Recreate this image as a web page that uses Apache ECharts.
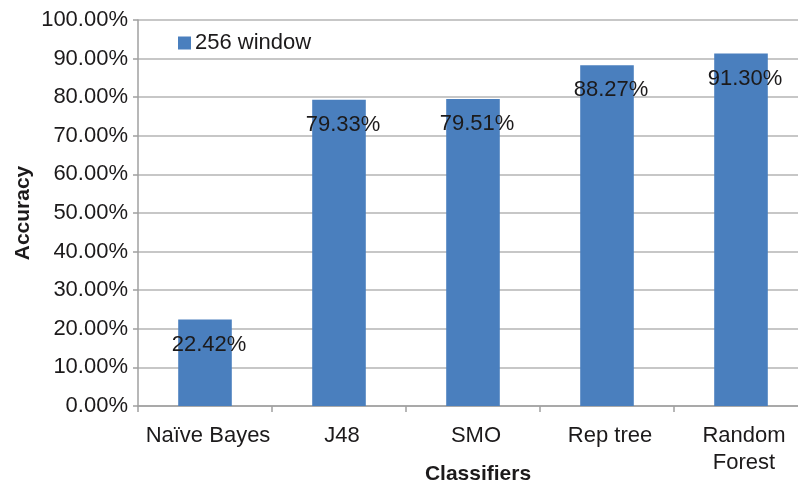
<!DOCTYPE html>
<html>
<head>
<meta charset="utf-8">
<script src="https://cdn.jsdelivr.net/npm/echarts@6/dist/echarts.min.js"></script>
<style>
  html, body { margin: 0; padding: 0; background: #fff; }
  #chart { width: 798px; height: 489px; }
</style>
</head>
<body>
<div id="chart"></div>
<script>
// classifiers on x, accuracy (%) on y
const classifiers = ['Naïve Bayes', 'J48', 'SMO', 'Rep tree', 'Random\nForest']
const accuracy256 = [22.42, 79.33, 79.51, 88.27, 91.30]
const seriesName = '256 window'

const chart = echarts.init(document.getElementById('chart'))

const font = 'Liberation Sans, Arial, Helvetica, sans-serif'
const textColor = '#1c1a1b'

const option = {
  animation: false,
  textStyle: { fontFamily: font },
  grid: { left: 138, top: 20, right: -10, bottom: 83, containLabel: false, outerBoundsMode: 'none' },
  legend: {
    data: [seriesName],
    left: 178,
    top: 32,
    padding: 0,
    itemWidth: 13,
    itemHeight: 13,
    itemGap: 4,
    icon: 'rect',
    textStyle: { fontSize: 22, color: textColor, fontFamily: font, padding: [0, 0, 0, -1] }
  },
  xAxis: {
    type: 'category',
    data: classifiers,
    name: 'Classifiers',
    nameLocation: 'middle',
    nameGap: 58,
    nameMoveOverlap: false,
    nameTextStyle: { fontSize: 21, fontWeight: 'bold', color: textColor, fontFamily: font, padding: [0, 0, 0, 10] },
    axisLine: { lineStyle: { color: '#a0a0a0', width: 1.5 } },
    axisTick: { show: true, length: 6, lineStyle: { color: '#a0a0a0', width: 1.5 } },
    axisLabel: {
      interval: 0,
      hideOverlap: false,
      fontSize: 22,
      color: textColor,
      margin: 16,
      lineHeight: 27,
      padding: [0, 0, 0, 6],
      fontFamily: font
    }
  },
  yAxis: {
    type: 'value',
    min: 0,
    max: 100,
    interval: 10,
    name: 'Accuracy',
    nameLocation: 'middle',
    nameGap: 104,
    nameMoveOverlap: false,
    nameTextStyle: { fontSize: 21, fontWeight: 'bold', color: textColor, fontFamily: font },
    axisLine: { show: true, lineStyle: { color: '#a0a0a0', width: 1.5 } },
    axisTick: { show: true, length: 5, lineStyle: { color: '#a0a0a0', width: 1.5 } },
    axisLabel: {
      fontSize: 22,
      color: textColor,
      margin: 10,
      fontFamily: font,
      formatter: v => v.toFixed(2) + '%'
    },
    splitLine: { show: true, lineStyle: { color: '#b5b5b5', width: 1.5 } }
  },
  series: [
    {
      name: seriesName,
      type: 'bar',
      data: accuracy256,
      barWidth: '40%',
      itemStyle: { color: '#4a7fbe' },
      label: {
        show: true,
        position: 'insideTop',
        distance: 14,
        offset: [4, 0],
        fontSize: 22,
        color: textColor,
        fontFamily: font,
        formatter: p => p.value.toFixed(2) + '%'
      }
    }
  ]
}

chart.setOption(option)
</script>
</body>
</html>
